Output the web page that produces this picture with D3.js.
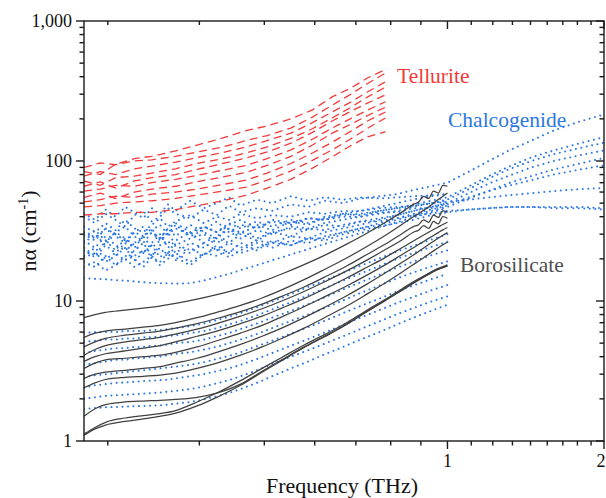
<!DOCTYPE html>
<html>
<head>
<meta charset="utf-8">
<script src="https://cdn.jsdelivr.net/npm/d3@7"></script>
<style>
  html, body { margin: 0; padding: 0; background: #fff; }
  svg { display: block; }
</style>
</head>
<body>
<svg id="chart" width="606" height="498" font-family="'Liberation Serif', 'Times New Roman', Times, 'DejaVu Serif', serif"></svg>
<script>
// ---- Tick values and labels ----
const xMajorTicks = [1, 2];
const xTickLabels = ["1", "2"];
const xMinorTicks = [2/9, 3/9, 4/9, 5/9, 6/9, 7/9, 8/9,
                     10/9, 11/9, 12/9, 13/9, 14/9, 15/9, 16/9, 17/9];
const yMajorTicks = [1, 10, 100, 1000];
const yTickLabels = ["1", "10", "100", "1,000"];
const yMinorTicks = [2,3,4,5,6,7,8,9, 20,30,40,50,60,70,80,90, 200,300,400,500,600,700,800,900];

// ---- Tellurite (dashed red), frequency in THz, nα in cm^-1 ----
const tellFreq = [0.2, 0.215, 0.23, 0.25, 0.27, 0.3, 0.33, 0.37, 0.41, 0.45, 0.5, 0.55, 0.6, 0.65, 0.7, 0.76];
const tell1  = [84, 80, 95, 104, 108, 118, 130, 146, 165, 178, 200, 232, 287, 330, 390, 450];
const tell2  = [90, 97, 94, 100, 102, 108, 116, 126, 140, 152, 172, 206, 250, 298, 355, 425];
const tell3  = [78, 84, 80, 88, 92, 98, 106, 115, 126, 140, 158, 188, 224, 262, 310, 368];
const tell4  = [72, 67, 76, 78, 82, 88, 96, 104, 114, 126, 145, 170, 203, 240, 285, 337];
const tell5  = [66, 71, 64, 72, 76, 80, 87, 96, 105, 116, 134, 160, 193, 225, 258, 297];
const tell6  = [61, 63, 67, 66, 70, 74, 79, 86, 93, 104, 120, 143, 172, 200, 230, 265];
const tell7  = [55, 59, 54, 60, 63, 66, 71, 77, 83, 93, 108, 130, 158, 182, 210, 242];
const tell8  = [51, 53, 56, 55, 58, 60, 63, 68, 73, 82, 96, 114, 136, 162, 192, 224];
const tell9  = [47, 48, 50, 51, 52, 54, 57, 61, 65, 73, 85, 101, 120, 143, 170, 203];
const tell10 = [41, 42, 42, 43, 43, 45, 48, 52, 57, 64, 74, 89, 107, 128, 148, 162];

// ---- Chalcogenide (dotted blue) ----
const chalcFreq = [0.2, 0.21, 0.22, 0.23, 0.24, 0.25, 0.26, 0.27, 0.28, 0.29, 0.3, 0.32, 0.34, 0.36, 0.38, 0.4,
                   0.43, 0.46, 0.5, 0.54, 0.58, 0.63, 0.68, 0.74, 0.8, 0.86, 0.93, 1.0,
                   1.1, 1.2, 1.32, 1.45, 1.6, 1.8, 2.0];
const chalc1  = [40, 36, 42, 38, 34, 41, 44, 37, 40, 46, 42, 39, 45, 41, 48, 43, 46, 44, 49, 47, 52, 50, 54, 56, 58, 62, 66, 70, 84, 100, 120, 140, 165, 192, 215];
const chalc2  = [26, 30, 25, 31, 28, 24, 29, 33, 27, 30, 35, 29, 32, 37, 31, 35, 33, 38, 36, 39, 38, 42, 41, 44, 46, 49, 52, 55, 66, 78, 92, 106, 119, 134, 148];
const chalc3  = [24, 21, 27, 23, 28, 25, 22, 26, 30, 24, 27, 31, 26, 29, 33, 28, 32, 30, 34, 33, 36, 38, 40, 42, 44, 47, 50, 53, 63, 75, 88, 100, 112, 124, 135];
const chalc4  = [21, 24, 20, 22, 26, 21, 23, 21, 25, 27, 22, 26, 24, 28, 26, 30, 27, 31, 29, 33, 32, 35, 37, 39, 41, 44, 47, 50, 59, 69, 79, 90, 100, 110, 119];
const chalc5  = [19, 17.5, 21, 18, 21, 20, 17.5, 20.5, 19, 22, 20.5, 18, 21.5, 24, 20.5, 23, 26, 24, 27, 26, 29, 31, 33, 35, 38, 41, 44, 47, 54, 61, 70, 78, 87, 96, 105];
const chalc6  = [30, 27, 33, 29, 26, 31, 34, 30, 28, 33, 36, 31, 34, 31, 35, 38, 33, 37, 35, 39, 38, 40, 40, 43, 43, 46, 46, 49, 55, 61, 67, 73, 80, 87, 93];
const chalc7  = [34, 31, 36, 32, 38, 33, 31, 35, 39, 34, 37, 41, 36, 40, 38, 42, 39, 41, 40, 43, 42, 44, 44, 46, 47, 48, 50, 51, 53, 55, 57, 59, 61, 63, 64];
const chalc8  = [17.5, 19, 16.5, 18, 20, 17.5, 19, 21, 18, 20, 22, 19, 22, 21, 23, 22, 24, 26, 25, 28, 27, 30, 32, 34, 36, 38, 41, 43, 45, 46, 47, 47, 47, 47, 46];
const chalc9  = [27, 24, 29, 25, 23, 26, 29, 24, 27, 31, 25, 28, 30, 26, 29, 32, 28, 31, 33, 32, 35, 34, 37, 37, 39, 41, 42, 44, 45, 46, 47, 47, 46, 46, 45];
const chalc10 = [23, 20.5, 25, 22, 19.5, 23, 26, 21, 24, 20.5, 25, 22, 26, 23, 26, 24, 27, 26, 29, 28, 31, 33, 35, 38, 41, 44, 47, 50];
const chalc11 = [20.5, 22, 19, 21, 24, 19.5, 22, 25, 20.5, 23, 19.5, 24, 21, 25, 22, 26, 23, 27, 25, 28, 28, 31, 33, 36, 39, 42, 45, 48];
const chalc12 = [31, 28, 33, 30, 27, 31, 29, 32, 35, 30, 33, 30, 34, 31, 36, 33, 37, 34, 38, 36, 39, 41, 42, 44, 46, 48, 50, 52];
const chalc13 = [42, 38, 45, 40, 47, 43, 39, 46, 42, 49, 44, 52, 46, 50, 55, 48, 53, 50, 56, 52, 55, 53, 55, 54, 55, 56, 57, 58];
const chalc14 = [29, 32, 27, 31, 34, 29, 26, 31, 28, 33, 29, 35, 31, 28, 33, 30, 35, 32, 37, 35, 40, 42, 44, 47, 50, 53, 56, 58];
const chalc15 = [14.6, 14.4, 14.3, 14.1, 14, 13.8, 13.6, 13.5, 13.4, 13.4, 13.3, 13.4, 14, 14.8, 15.6, 16.6, 18, 19.5, 21.5, 23.5, 25.5, 28, 30.5, 33.5, 36.5, 39.5, 43, 46];
const chalc16 = [5.9, 6.0, 6.0, 6.0, 6.1, 6.1, 6.1, 6.2, 6.2, 6.3, 6.4, 6.6, 6.9, 7.3, 7.7, 8.2, 9.0, 9.9, 11.2, 12.6, 14.0, 15.9, 17.8, 20.2, 22.6, 24.8, 27.4, 30];
const chalc17 = [5.1, 5.2, 5.3, 5.3, 5.4, 5.4, 5.5, 5.5, 5.6, 5.6, 5.7, 5.9, 6.1, 6.4, 6.8, 7.2, 7.9, 8.7, 9.8, 11, 12.3, 14, 15.7, 17.8, 20, 22, 24.3, 26.5];
const chalc18 = [4.25, 4.4, 4.5, 4.6, 4.6, 4.7, 4.7, 4.8, 4.8, 4.9, 5.0, 5.1, 5.3, 5.6, 5.9, 6.3, 6.9, 7.6, 8.5, 9.5, 10.6, 12.1, 13.6, 15.4, 17.3, 19.1, 21.2, 23];
const chalc19 = [3.5, 3.6, 3.7, 3.8, 3.8, 3.9, 3.9, 4.0, 4.0, 4.1, 4.2, 4.3, 4.5, 4.7, 5.0, 5.3, 5.8, 6.4, 7.2, 8.0, 8.9, 10.1, 11.4, 12.9, 14.5, 16, 17.6, 19.2];
const chalc20 = [2.86, 2.95, 3.0, 3.05, 3.1, 3.15, 3.2, 3.25, 3.3, 3.35, 3.4, 3.5, 3.65, 3.85, 4.05, 4.3, 4.75, 5.2, 5.85, 6.5, 7.2, 8.2, 9.2, 10.4, 11.7, 12.9, 14.3, 15.6];
const chalc21 = [2.4, 2.5, 2.55, 2.6, 2.62, 2.65, 2.68, 2.7, 2.72, 2.75, 2.8, 2.9, 3.0, 3.15, 3.3, 3.5, 3.85, 4.25, 4.8, 5.35, 5.95, 6.75, 7.6, 8.6, 9.7, 10.7, 11.9, 13];
const chalc22 = [2.0, 2.05, 2.1, 2.12, 2.14, 2.16, 2.18, 2.2, 2.22, 2.25, 2.28, 2.35, 2.45, 2.58, 2.72, 2.9, 3.2, 3.55, 4.0, 4.45, 4.95, 5.6, 6.3, 7.15, 8.05, 8.9, 9.9, 10.8];
const chalc23 = [1.7, 1.72, 1.74, 1.75, 1.76, 1.77, 1.78, 1.79, 1.8, 1.82, 1.85, 1.9, 1.98, 2.08, 2.2, 2.35, 2.6, 2.9, 3.3, 3.7, 4.15, 4.7, 5.3, 6.0, 6.8, 7.6, 8.5, 9.4];

// ---- Borosilicate (solid grey) ----
const boroFreq = [0.2, 0.21, 0.22, 0.24, 0.26, 0.28, 0.3, 0.33, 0.36, 0.4, 0.44, 0.48, 0.53, 0.58, 0.64,
                  0.7, 0.76, 0.82, 0.86, 0.88, 0.9, 0.92, 0.94, 0.96, 0.98, 1.0];
const boro1  = [7.6, 8.0, 8.3, 8.6, 8.9, 9.2, 9.6, 10.3, 11.1, 12.3, 13.8, 15.6, 18.2, 21.2, 25.5, 30.5, 36.5, 43.5, 49, 51, 56, 54, 61, 59, 67, 66];
const boro2  = [5.5, 5.9, 6.1, 6.3, 6.5, 6.7, 7.0, 7.6, 8.3, 9.3, 10.5, 12.0, 14.2, 16.8, 20.3, 24.5, 29.5, 35.5, 40, 42, 44.5, 47, 50, 53, 56, 59];
const boro3  = [4.7, 5.1, 5.4, 5.7, 5.9, 6.1, 6.4, 6.9, 7.5, 8.4, 9.5, 10.8, 12.6, 14.8, 17.8, 21.5, 25.5, 30.5, 34, 35, 38, 36.5, 41, 39.5, 44, 43];
const boro4  = [4.1, 4.5, 4.8, 5.1, 5.3, 5.5, 5.8, 6.3, 6.9, 7.8, 8.8, 10.0, 11.7, 13.7, 16.4, 19.6, 23.3, 27.5, 31, 32, 34.5, 33, 37, 35.5, 40, 39];
const boro5  = [3.7, 4.0, 4.2, 4.4, 4.6, 4.8, 5.1, 5.6, 6.1, 6.9, 7.8, 8.9, 10.4, 12.2, 14.6, 17.4, 20.5, 24.2, 26.8, 28.2, 29.6, 31, 32.4, 33.8, 35.2, 36.5];
const boro6  = [3.3, 3.6, 3.8, 3.9, 4.0, 4.1, 4.3, 4.7, 5.2, 5.9, 6.7, 7.7, 9.1, 10.7, 12.8, 15.3, 18.2, 21.6, 24, 25.3, 26.6, 28, 29.4, 30.8, 32.2, 33.5];
const boro7  = [2.8, 3.0, 3.1, 3.2, 3.3, 3.4, 3.6, 3.9, 4.3, 4.9, 5.6, 6.4, 7.6, 9.0, 10.9, 13.2, 15.9, 19.0, 21.3, 22.6, 23.9, 25.3, 26.7, 28.1, 29.5, 30.8];
const boro8  = [2.4, 2.6, 2.75, 2.85, 2.9, 2.95, 3.05, 3.3, 3.6, 4.1, 4.7, 5.4, 6.4, 7.6, 9.2, 11.2, 13.5, 16.2, 18.2, 19.3, 20.4, 21.6, 22.8, 24, 25.2, 26.4];
const boro9  = [1.12, 1.25, 1.36, 1.46, 1.52, 1.57, 1.65, 1.9, 2.2, 2.7, 3.3, 3.95, 4.85, 5.75, 7.0, 8.6, 10.3, 12.3, 13.7, 14.4, 15.1, 15.8, 16.5, 17.1, 17.6, 18.1];
const boro10 = [1.1, 1.22, 1.3, 1.38, 1.44, 1.5, 1.58, 1.78, 2.05, 2.5, 3.1, 3.75, 4.65, 5.55, 6.8, 8.4, 10.1, 12.0, 13.4, 14.1, 14.8, 15.5, 16.2, 16.8, 17.3, 17.8];
const boro11 = [1.5, 1.7, 1.82, 1.9, 1.93, 1.95, 1.98, 2.05, 2.2, 2.55, 3.15, 3.8, 4.7, 5.6, 6.85, 8.45, 10.2, 12.1, 13.5, 14.2, 14.9, 15.6, 16.3, 16.9, 17.4, 17.9];

const tellSeries  = [tell1, tell2, tell3, tell4, tell5, tell6, tell7, tell8, tell9, tell10];
const chalcSeries = [chalc1, chalc2, chalc3, chalc4, chalc5, chalc6, chalc7, chalc8, chalc9, chalc10, chalc11, chalc12,
                     chalc13, chalc14, chalc15, chalc16, chalc17, chalc18, chalc19, chalc20, chalc21, chalc22, chalc23];
const boroSeries  = [boro1, boro2, boro3, boro4, boro5, boro6, boro7, boro8, boro9, boro10, boro11];

// ---- Layout ----
const svg = d3.select("#chart");
const pL = 84, pR = 604, pT = 21, pB = 441;
const axisColor = "#1a1a1a";

const x = d3.scaleLog().domain([0.2, 2]).range([pL, pR]);
const y = d3.scaleLog().domain([1, 1000]).range([pB, pT]);

svg.append("defs").append("clipPath").attr("id", "plot")
  .append("rect").attr("x", pL).attr("y", pT).attr("width", pR - pL).attr("height", pB - pT);

const pairs = (freq, vals) => vals.map((v, i) => [freq[i], v]);
const line = d3.line().x(d => x(d[0])).y(d => y(d[1]));
const smooth = d3.line().x(d => x(d[0])).y(d => y(d[1])).curve(d3.curveMonotoneX);

const plot = svg.append("g").attr("clip-path", "url(#plot)");

// chalcogenide: dotted blue
plot.append("g").selectAll("path").data(chalcSeries).join("path")
  .attr("d", s => line(pairs(chalcFreq, s)))
  .attr("fill", "none")
  .attr("stroke", "#2b78e4")
  .attr("stroke-width", 2)
  .attr("stroke-linecap", "round")
  .attr("stroke-dasharray", "0.01 5.5");

// borosilicate: solid grey
plot.append("g").selectAll("path").data(boroSeries).join("path")
  .attr("d", s => smooth(pairs(boroFreq, s)))
  .attr("fill", "none")
  .attr("stroke", "#404040")
  .attr("stroke-width", 1.25);

// tellurite: dashed red
plot.append("g").selectAll("path").data(tellSeries).join("path")
  .attr("d", s => line(pairs(tellFreq, s)))
  .attr("fill", "none")
  .attr("stroke", "#f23a3a")
  .attr("stroke-width", 1.3)
  .attr("stroke-dasharray", "8 5");

// ---- Frame and ticks ----
const frame = svg.append("g").attr("stroke", axisColor).attr("stroke-width", 1.4);
frame.append("rect").attr("x", pL).attr("y", pT).attr("width", pR - pL).attr("height", pB - pT)
  .attr("fill", "none");

// bottom (outward) and top (inward)
frame.append("g").selectAll("line").data(xMinorTicks).join("line")
  .attr("x1", d => x(d)).attr("x2", d => x(d)).attr("y1", pB).attr("y2", pB + 4.5);
frame.append("g").selectAll("line").data(xMajorTicks).join("line")
  .attr("x1", d => x(d)).attr("x2", d => x(d)).attr("y1", pB).attr("y2", pB + 8);
frame.append("g").selectAll("line").data(xMinorTicks).join("line")
  .attr("x1", d => x(d)).attr("x2", d => x(d)).attr("y1", pT).attr("y2", pT + 4);
frame.append("g").selectAll("line").data(xMajorTicks).join("line")
  .attr("x1", d => x(d)).attr("x2", d => x(d)).attr("y1", pT).attr("y2", pT + 8);

// left (outward) and right (inward)
frame.append("g").selectAll("line").data(yMinorTicks).join("line")
  .attr("y1", d => y(d)).attr("y2", d => y(d)).attr("x1", pL).attr("x2", pL - 4.5);
frame.append("g").selectAll("line").data(yMajorTicks).join("line")
  .attr("y1", d => y(d)).attr("y2", d => y(d)).attr("x1", pL).attr("x2", pL - 8);
frame.append("g").selectAll("line").data(yMinorTicks).join("line")
  .attr("y1", d => y(d)).attr("y2", d => y(d)).attr("x1", pR).attr("x2", pR - 4.5);
frame.append("g").selectAll("line").data(yMajorTicks).join("line")
  .attr("y1", d => y(d)).attr("y2", d => y(d)).attr("x1", pR).attr("x2", pR - 8);

// tick labels
svg.append("g").selectAll("text").data(yMajorTicks).join("text")
  .attr("x", pL - 12).attr("y", d => y(d)).attr("dy", "0.34em")
  .attr("text-anchor", "end").attr("font-size", 18).attr("fill", "#111")
  .text((d, i) => yTickLabels[i]);
svg.append("g").selectAll("text").data(xMajorTicks).join("text")
  .attr("x", d => Math.min(x(d), pR - 3)).attr("y", pB + 26)
  .attr("text-anchor", "middle").attr("font-size", 18).attr("fill", "#111")
  .text((d, i) => xTickLabels[i]);

// axis titles
svg.append("text").attr("x", 342).attr("y", 493)
  .attr("text-anchor", "middle").attr("font-size", 22).attr("fill", "#111")
  .text("Frequency (THz)");
const yt = svg.append("text")
  .attr("transform", `translate(36,${(pT + pB) / 2}) rotate(-90)`)
  .attr("text-anchor", "middle").attr("font-size", 22).attr("fill", "#111");
yt.append("tspan").text("nα (cm");
yt.append("tspan").attr("font-size", 14).attr("dy", -8).text("-1");
yt.append("tspan").attr("dy", 8).text(")");

// series labels
svg.append("text").attr("x", 397).attr("y", 83).attr("font-size", 21.5).attr("fill", "#f23a3a").text("Tellurite");
svg.append("text").attr("x", 448).attr("y", 127).attr("font-size", 21.5).attr("fill", "#2b78e4").text("Chalcogenide");
svg.append("text").attr("x", 460).attr("y", 272).attr("font-size", 21.5).attr("fill", "#505050").text("Borosilicate");
</script>
</body>
</html>
